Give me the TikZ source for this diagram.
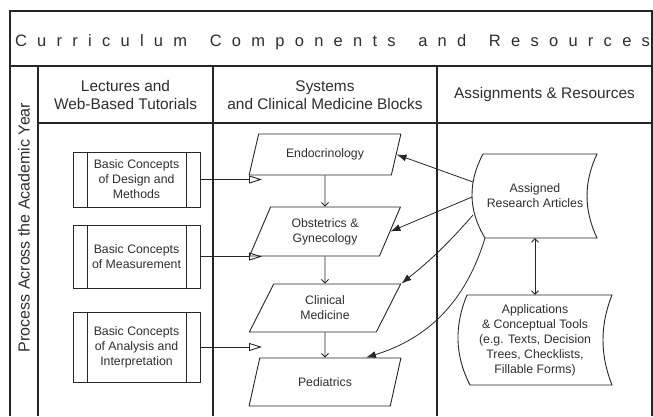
\documentclass[tikz,border=0pt]{standalone}
\usepackage{fontspec}
\setmainfont{Liberation Sans}
\usetikzlibrary{shapes.geometric,arrows.meta,calc}
\newcommand{\lsp}{\hspace{0pt plus 1fill}}
\newcommand{\wsp}{\hspace{0pt plus 2.2fill}}
\begin{document}
\begin{tikzpicture}[x=1pt,y=-1pt,
  frame/.style={line width=1.1pt, draw=black!85},
  txt/.style={text=black!82, font=\fontsize{12.3}{15}\selectfont, align=center, inner sep=0pt},
  hdr/.style={text=black!82, font=\fontsize{15.4}{18}\selectfont, align=center, inner sep=0pt},
  para/.style={trapezium, trapezium left angle=64, trapezium right angle=116,
    trapezium stretches=true, draw=black!85, line width=0.9pt,
    minimum width=152pt, txt},
  proc/.style={rectangle, draw=black!85, line width=0.9pt, minimum width=127pt, txt,
    path picture={\draw[line width=0.9pt, black!85]
      ([xshift=14pt]path picture bounding box.north west) -- ([xshift=14pt]path picture bounding box.south west)
      ([xshift=-14pt]path picture bounding box.north east) -- ([xshift=-14pt]path picture bounding box.south east);}},
  tape/.style={draw=black!85, line width=0.9pt},
  openarrow/.style={line width=0.9pt, black!85, -{Triangle[open,length=13pt,width=8pt]}},
  flow/.style={line width=0.8pt, black!85, -{Straight Barb[length=3.5pt,width=7pt]}},
  both/.style={line width=0.8pt, black!85, {Straight Barb[length=3.5pt,width=7pt]}-{Straight Barb[length=3.5pt,width=7pt]}},
  ref/.style={line width=0.8pt, black!85, -{Latex[length=10pt,width=7pt]}}
]
\useasboundingbox (0,0) rectangle (653,416);

% frame
\draw[frame] (10,416) -- (10,11) -- (652,11) -- (652,416);
\draw[frame] (10,66) -- (652,66);
\draw[frame] (38,66) -- (38,416);
\draw[frame] (38,123) -- (652,123);
\draw[frame] (213,66) -- (213,416);
\draw[frame] (437,66) -- (437,416);

% title
\node[anchor=base, inner sep=0pt, text=black!82, font=\fontsize{16.5}{18}\selectfont] (title) at (332.5,46.5)
  {\makebox[635pt]{C\lsp u\lsp r\lsp r\lsp i\lsp c\lsp u\lsp l\lsp u\lsp m\wsp C\lsp o\lsp m\lsp p\lsp o\lsp n\lsp e\lsp n\lsp t\lsp s\wsp a\lsp n\lsp d\wsp R\lsp e\lsp s\lsp o\lsp u\lsp r\lsp c\lsp e\lsp s}};

% side label and headers
\node[hdr, rotate=90, font=\fontsize{16}{18}\selectfont] (side) at (24,227.5) {Process Across the Academic Year};
\node[hdr] (h1) at (125.5,95) {Lectures and\\Web-Based Tutorials};
\node[hdr] (h2) at (325,95) {Systems\\and Clinical Medicine Blocks};
\node[hdr] (h3) at (544.5,95) {Assignments \& Resources};

% left boxes
\node[proc, minimum height=55pt] (b1) at (136.5,179.5) {Basic Concepts\\of Design and\\Methods};
\node[proc, minimum height=63pt] (b2) at (136.5,256.5) {Basic Concepts\\of Measurement};
\node[proc, minimum height=70pt] (b3) at (136.5,347) {Basic Concepts\\of Analysis and\\Interpretation};

% parallelograms
\node[para, minimum height=41pt] (endo) at (325,154.5) {Endocrinology};
\node[para, minimum height=49pt] (obst) at (325,231.5) {Obstetrics \&\\Gynecology};
\node[para, minimum height=48pt] (clin) at (325,308) {Clinical\\Medicine};
\node[para, minimum height=48pt] (ped) at (325,382) {Pediatrics};

% right column shapes
\node[txt, minimum width=114pt, minimum height=84pt] (ra) at (535,196) {Assigned\\Research Articles};
\begin{scope}[shift={(ra.center)}]
  \draw[tape] (-52,-42) -- (62,-42) .. controls (48.7,-14) and (48.7,14) .. (62,42)
    -- (-50,42) .. controls (-67,14) and (-67,-14) .. (-52,-42) -- cycle;
  \coordinate (ra1) at (-62,-14);
  \coordinate (ra2) at (-63,1);
  \coordinate (ra3) at (-62,19);
  \coordinate (ra4) at (-50,42);
\end{scope}
\node[txt, minimum width=140pt, minimum height=90pt] (app) at (535,340)
  {Applications\\\& Conceptual Tools\\(e.g. Texts, Decision\\Trees, Checklists,\\Fillable Forms)};
\begin{scope}[shift={(app.center)}]
  \draw[tape] (-68,-45) -- (77,-45) .. controls (65,-15) and (65,15) .. (77,45)
    -- (-65,45) .. controls (-80.5,15) and (-80.5,-15) .. (-68,-45) -- cycle;
\end{scope}

% arrow tip column
\coordinate (tipx) at (262,0);
\draw[openarrow] (b1) -- (b1 -| tipx);
\draw[openarrow] (b2) -- (b2 -| tipx);
\draw[openarrow] (b3) -- (b3 -| tipx);

% flow
\draw[flow] (endo.south) -- (obst.north);
\draw[flow] (obst.south) -- (clin.north);
\draw[flow] (clin.south) -- (ped.north);
\draw[both] (ra.south) -- (app.north);

% references
\draw[ref] (ra1) -- (endo.east);
\draw[ref] (ra2) -- (obst.east);
\draw[ref] (ra3) to[bend left=5] (clin.top right corner);
\draw[ref] (ra4) to[bend left=28] ($(ped.top left corner)!0.75!(ped.top right corner)$);
\end{tikzpicture}
\end{document}
